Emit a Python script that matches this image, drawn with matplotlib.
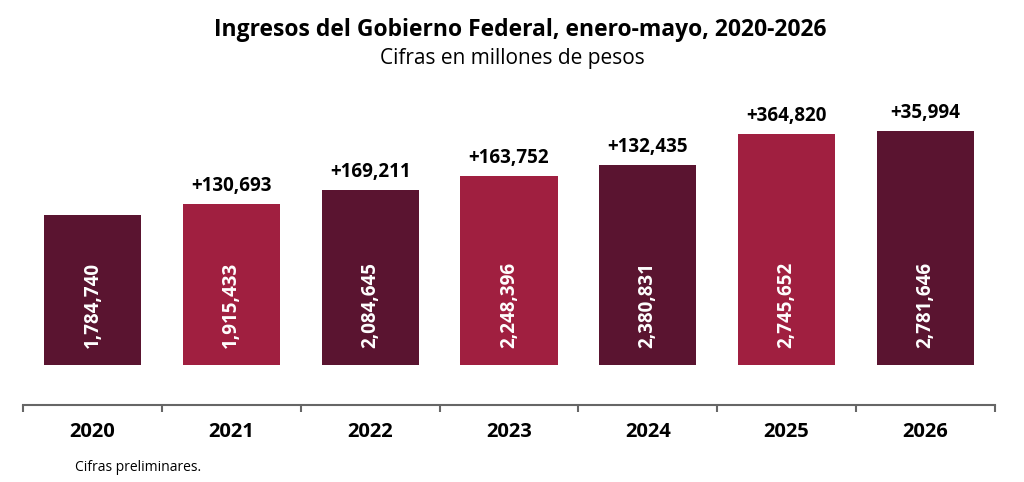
import matplotlib
matplotlib.use("Agg")
import matplotlib.pyplot as plt

# Data
years = ["2020", "2021", "2022", "2023", "2024", "2025", "2026"]
ingresos = [1784740, 1915433, 2084645, 2248396, 2380831, 2745652, 2781646]
incrementos = [None, "+130,693", "+169,211", "+163,752", "+132,435", "+364,820", "+35,994"]

dark = "#5a1430"
red = "#a01f40"
colors = [dark, red, dark, red, dark, red, dark]

plt.rcParams["font.family"] = ["Open Sans", "DejaVu Sans"]

fig = plt.figure(figsize=(10.24, 4.82), dpi=100)
ax = fig.add_axes([0.0225, 0.1598, 0.949, 0.643])

x = range(len(years))
bars = ax.bar(x, ingresos, width=0.70, color=colors)

ax.set_xlim(-0.5, len(years) - 0.5)
ax.set_ylim(-476000, 3214000)

for i, (b, v) in enumerate(zip(bars, ingresos)):
    ax.text(i, 714000, f"{v:,}", rotation=90, ha="center", va="center",
            color="white", fontsize=13.5, fontweight="bold")
    if incrementos[i]:
        ax.annotate(incrementos[i], (i, v), xytext=(0, 6), textcoords="offset points",
                    ha="center", va="bottom", fontsize=13.5, fontweight="bold", color="black")

# axis styling
for s in ["top", "right", "left"]:
    ax.spines[s].set_visible(False)
ax.spines["bottom"].set_color("#666666")
ax.spines["bottom"].set_linewidth(1.5)
ax.set_yticks([])
ax.set_xticks(list(x))
ax.set_xticklabels(years, fontsize=14.5, fontweight="bold")
ax.tick_params(axis="x", which="major", length=0, pad=12)
ax.set_xticks([i - 0.5 for i in range(len(years) + 1)], minor=True)
ax.tick_params(axis="x", which="minor", length=5, width=1.5, color="#666666", direction="out")

fig.text(0.508, 0.938, "Ingresos del Gobierno Federal, enero-mayo, 2020-2026",
         ha="center", va="center", fontsize=16.5, fontweight="bold")
fig.text(0.5, 0.879, "Cifras en millones de pesos", ha="center", va="center", fontsize=15)
fig.text(0.073, 0.031, "Cifras preliminares.", ha="left", va="center", fontsize=10)

fig.savefig("out.png", dpi=100)
